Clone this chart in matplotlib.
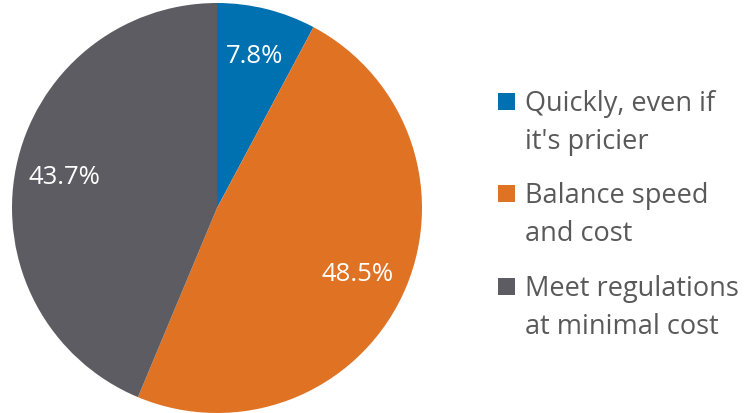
import matplotlib
matplotlib.use('Agg')
import matplotlib.pyplot as plt
from matplotlib.patches import Rectangle

# Данные
categories = ["Quickly, even if\nit's pricier", "Balance speed\nand cost", "Meet regulations\nat minimal cost"]
shares = [7.8, 48.5, 43.7]
colors = ['#0071B0', '#E07224', '#5D5C62']

plt.rcParams['font.family'] = ['Open Sans', 'DejaVu Sans']

W, H = 750, 413
fig = plt.figure(figsize=(W / 100, H / 100), dpi=100)

# Круговая диаграмма: центр ~ (217, 208) px, радиус ~205 px
r_px = 205
ax = fig.add_axes([(217 - r_px) / W, (H - 208 - r_px) / H, 2 * r_px / W, 2 * r_px / H])
wedges, texts, autotexts = ax.pie(
    shares, colors=colors, startangle=90, counterclock=False,
    autopct='%.1f%%', pctdistance=0.76, radius=1,
    textprops={'color': 'white', 'fontsize': 18.5},
    wedgeprops={'linewidth': 0})
ax.set_xlim(-1, 1)
ax.set_ylim(-1, 1)
ax.set_aspect('equal')
ax.axis('off')

# Легенда справа, вручную: квадрат напротив первой строки
first_baselines = [111, 203, 296]
line_gap = 38
for label, color, yb in zip(categories, colors, first_baselines):
    fig.patches.append(Rectangle((498 / W, 1 - (yb - 1) / H), 17 / W, 17 / H,
                                 transform=fig.transFigure, facecolor=color,
                                 edgecolor='none'))
    for k, line in enumerate(label.split('\n')):
        fig.text(525 / W, 1 - (yb + k * line_gap) / H, line, fontsize=19.5,
                 color='#595959', va='baseline', ha='left')

fig.savefig('out.png', dpi=100)
